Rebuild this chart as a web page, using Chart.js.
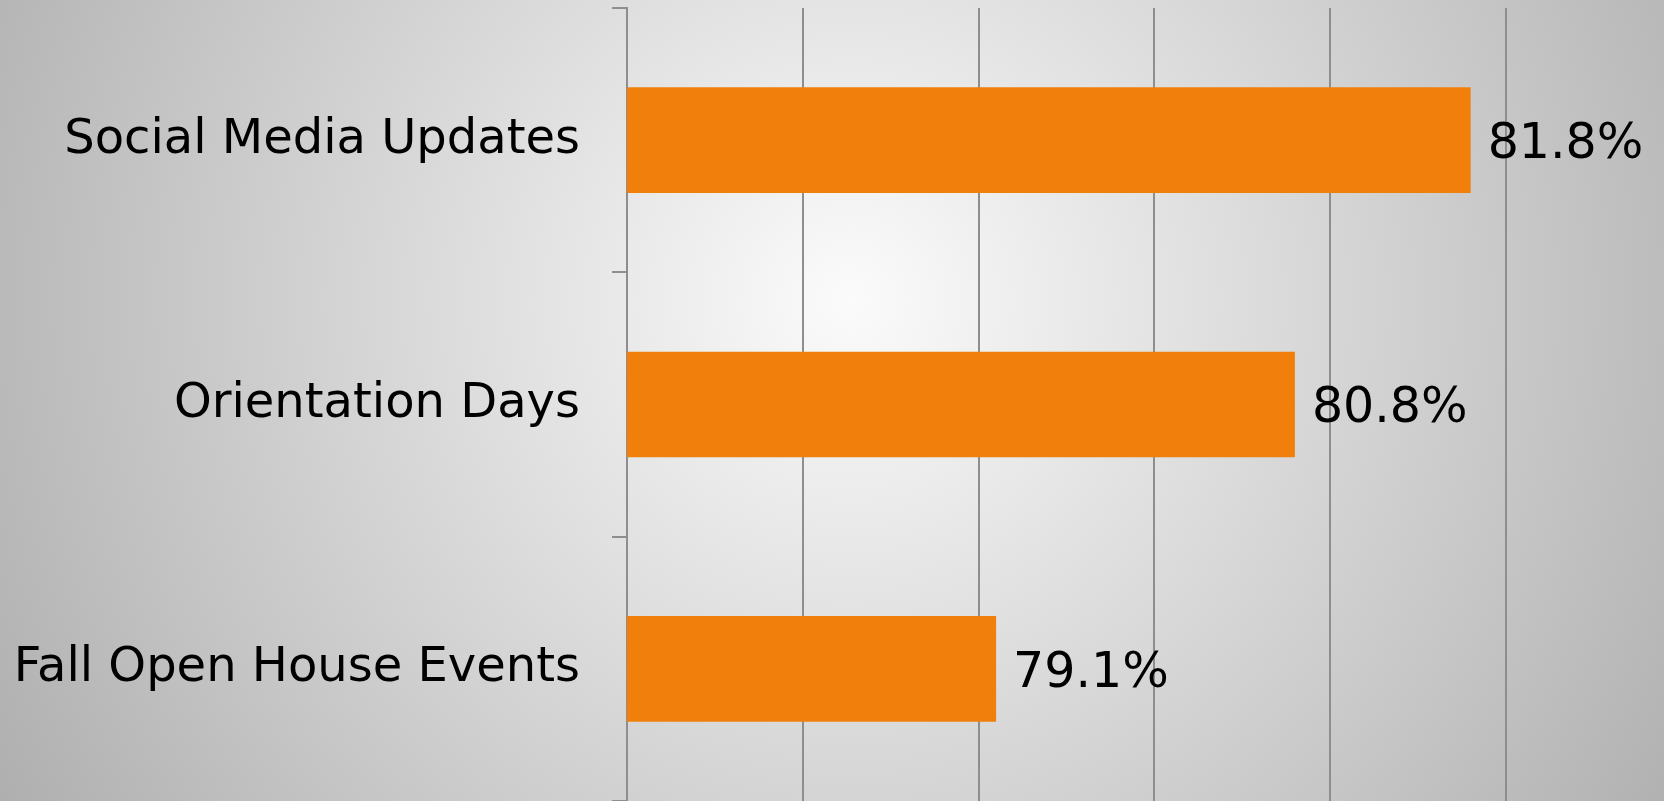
<!DOCTYPE html>
<html>
<head>
<meta charset="utf-8">
<title>Outreach Ratings</title>
<script src="https://cdn.jsdelivr.net/npm/chart.js@4.4.1/dist/chart.umd.min.js"></script>
<style>
    html, body {
        margin: 0;
        padding: 0;
        width: 1664px;
        height: 801px;
        overflow: hidden;
        background: radial-gradient(circle farthest-corner at 850px 300px, #fbfbfb 0%, #afafaf 100%);
    }
    #chart-wrap { position: relative; width: 1664px; height: 801px; }
</style>
</head>
<body>
<div id="chart-wrap"><canvas id="barChart" width="1664" height="801"></canvas></div>
<script>
// 1. Chart data
const categories = ['Social Media Updates', 'Orientation Days', 'Fall Open House Events'];
const percentValues = [81.8, 80.8, 79.1];
const axisMin = 77;
const axisMax = 82.9;

const barColor = '#F0800B';
const lineColor = '#8e8e8e';

// 2. Small plugin: value labels just past the end of each bar
const valueLabels = {
    id: 'valueLabels',
    afterDatasetsDraw(chart) {
        const ctx = chart.ctx;
        const meta = chart.getDatasetMeta(0);
        ctx.save();
        ctx.font = '49px "DejaVu Sans"';
        ctx.fillStyle = '#000';
        ctx.textAlign = 'left';
        ctx.textBaseline = 'middle';
        meta.data.forEach((bar, i) => {
            const v = chart.data.datasets[0].data[i];
            ctx.fillText(v.toFixed(1) + '%', bar.x + 17, bar.y + 5);
        });
        ctx.restore();
    }
};

document.addEventListener('DOMContentLoaded', () => {
    const ctx = document.getElementById('barChart').getContext('2d');

    new Chart(ctx, {
        type: 'bar',
        data: {
            labels: categories,
            datasets: [{
                data: percentValues,
                backgroundColor: barColor,
                borderWidth: 0,
                categoryPercentage: 1,
                barPercentage: 0.4
            }]
        },
        options: {
            indexAxis: 'y',
            responsive: false,
            animation: false,
            layout: { padding: { top: 8, right: 0, bottom: 0, left: 0 } },
            plugins: {
                legend: { display: false },
                tooltip: { enabled: false }
            },
            scales: {
                x: {
                    min: axisMin,
                    max: axisMax,
                    ticks: { display: false, stepSize: 1, includeBounds: false },
                    grid: { color: lineColor, lineWidth: 2, drawTicks: false },
                    border: { display: false },
                    afterFit: (scale) => { scale.height = 0; }
                },
                y: {
                    // fixed label column, no extra room above/below for labels
                    afterFit: (scale) => {
                        scale.width = 627;
                        scale.paddingTop = 0;
                        scale.paddingBottom = 0;
                    },
                    ticks: {
                        color: '#000',
                        padding: 32,
                        font: { family: 'DejaVu Sans', size: 48 }
                    },
                    grid: {
                        offset: true,
                        drawOnChartArea: false,
                        tickLength: 15,
                        color: lineColor,
                        lineWidth: 2
                    },
                    border: { display: true, color: lineColor, width: 2 }
                }
            }
        },
        plugins: [valueLabels]
    });
});
</script>
</body>
</html>
